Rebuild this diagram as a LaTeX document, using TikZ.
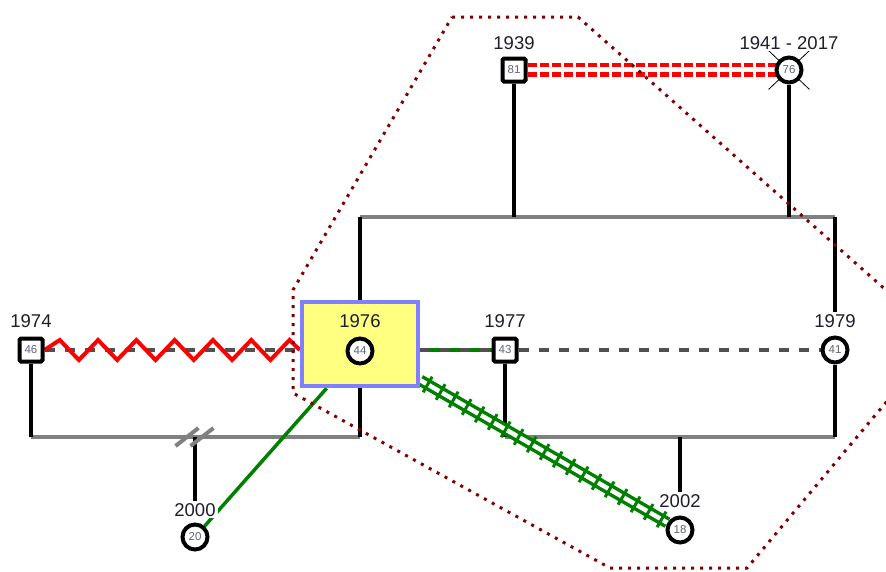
\documentclass[tikz,border=0pt]{standalone}
\usepackage{fontspec}
\setmainfont{Liberation Sans}
\usetikzlibrary{positioning, shapes.misc, backgrounds, decorations.markings}

\definecolor{bargray}{RGB}{128,128,128}
\definecolor{dashgray}{RGB}{80,80,80}
\definecolor{linkgreen}{RGB}{0,128,0}
\definecolor{linkred}{RGB}{255,0,0}
\definecolor{idxyellow}{RGB}{255,255,128}
\definecolor{idxblue}{RGB}{128,128,255}
\definecolor{hullred}{RGB}{128,0,0}
\definecolor{agegray}{RGB}{95,100,120}
\definecolor{yeartext}{RGB}{30,30,45}

\begin{document}
\begin{tikzpicture}[
  x=1pt, y=-1pt,
  male/.style={draw, line width=4pt, rounded corners=1.5pt, fill=white, minimum size=23pt, inner sep=0pt, text=agegray, font=\fontsize{11.5}{11.5}\selectfont},
  female/.style={draw, circle, line width=4pt, fill=white, minimum size=25pt, inner sep=0pt, text=agegray, font=\fontsize{11.5}{11.5}\selectfont},
  year/.style={fill=white, inner sep=2pt, text=yeartext, font=\fontsize{18.5}{18.5}\selectfont},
  index/.style={draw=idxblue, fill=idxyellow, line width=4.5pt, minimum width=116pt, minimum height=84pt},
  dead/.style={draw, cross out, line width=0.8pt, minimum width=40pt, minimum height=38pt},
  kid/.style={line width=4.5pt},
  bar/.style={draw=bargray, line width=4.5pt},
  divmark/.style={draw=bargray, line width=4pt},
  wed/.style={draw=dashgray, line width=4pt, dash pattern=on 10pt off 10pt},
  split/.style={draw=linkred, line width=4.5pt, dash pattern=on 9pt off 3pt},
  hostile/.style={draw=linkred, line width=4pt},
  close/.style={draw=linkgreen, line width=3.5pt},
  fused/.style={draw=linkgreen, line width=3.5pt, double=white, double distance=4.5pt},
  fusedticks/.style={decorate, decoration={markings, mark=between positions 0.03 and 1 step 15pt with {\draw[linkgreen, line width=3pt] (0,-9pt) -- (0,9pt);}}},
  hull/.style={draw=hullred, line width=3pt, dash pattern=on 3pt off 6pt}
]
\useasboundingbox (0,0) rectangle (886,571);
\clip (0,0) rectangle (886,571);

% grandparents
\node[male] (p81) at (514,70) {81};
\node[dead] (x76) at (789,70) {};
\node[female] (p76) at (789,70) {76};
\node[year, above=5pt of p81] (y81) {1939};
\node[year, above=4pt of p76] (y76) {1941 - 2017};

% middle generation
\node[male] (p46) at (31,350) {46};
\node[index] (hl) at (360,344) {};
\node[female] (p44) at (360,351) {44};
\node[male] (p43) at (505,350) {43};
\node[female] (p41) at (835,350) {41};
\node[year, above=6.5pt of p46] (y46) {1974};
\node[year, fill=none, above=6.5pt of p44] (y44) {1976};
\node[year, above=6.5pt of p43] (y43) {1977};
\node[year, above=6pt of p41] (y41) {1979};

% children
\node[female] (p20) at (195,537) {20};
\node[female] (p18) at (680,530) {18};
\node[year, above=4pt of p20] (y20) {2000};
\node[year, above=6pt of p18] (y18) {2002};

\coordinate (sib) at (0,217);
\coordinate (famA) at (0,437);

\begin{pgfonlayer}{background}
% family lines
\draw[bar] (hl |- sib) -- (p41 |- sib);
\draw[bar] (p46 |- famA) -- (hl |- famA);
\draw[bar] (p43 |- famA) -- (p41 |- famA);
\draw[kid] (p81) -- (p81 |- sib);
\draw[kid] (p76) -- (p76 |- sib);
\draw[kid] (hl.north |- sib) -- (hl.north);
\draw[kid] (hl.south) -- (hl.south |- famA);
\draw[kid] (y41) -- (y41 |- sib);
\draw[kid] (p41) -- (p41 |- famA);
\draw[kid] (p46) -- (p46 |- famA);
\draw[kid] (p43) -- (p43 |- famA);
\draw[kid] (p20 |- famA) -- (y20);
\draw[kid] (p18 |- famA) -- (y18);

% divorce
\coordinate (div) at (p20 |- famA);
\foreach \dx in {-8,7}
  \draw[divmark] ([xshift=\dx pt]div) ++(-11.5,9) -- ++(23,-18);

% relations
\draw[split] ([yshift=5pt]p81.east) -- ([yshift=5pt]p81.east -| p76.center);
\draw[split] ([yshift=-4.5pt]p81.east) -- ([yshift=-4.5pt]p81.east -| p76.center);
\draw[wed] (p46) -- (p46 -| hl.west);
\draw[hostile] (p46.east) -- ++(15.25,-10)
  \foreach \k in {1,...,6} { -- ++(19.15,20) -- ++(19.15,-20) }
  -- (p46 -| hl.west);
\draw[close] (hl.east |- p43) -- (p43);
\draw[wed] (hl.east |- p43) -- (p43);
\draw[wed] (p43) -- (p41);
\draw[close] (hl.233) -- (p20);
\draw[fused] (hl.-31) -- (p18);
\path[fusedticks] (hl.-31) -- (p18);
\end{pgfonlayer}

% household
\draw[hull] (452,17) -- (578,17) -- (940,338) -- (747,568) -- (610,568)
  -- (293,393) -- (293,290) -- cycle;
\end{tikzpicture}
\end{document}
